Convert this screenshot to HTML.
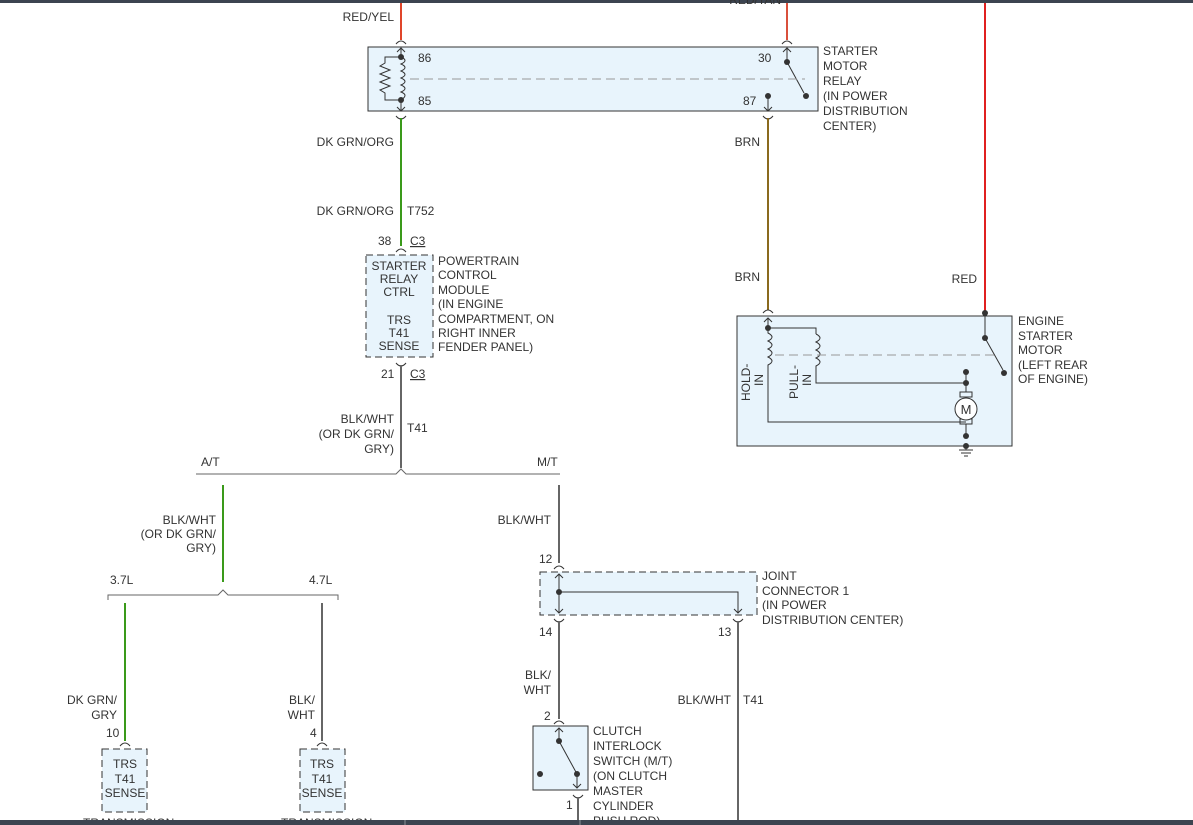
<!DOCTYPE html>
<html><head><meta charset="utf-8"><style>
html,body{margin:0;padding:0;background:#fff;}
svg{display:block;font-family:"Liberation Sans",sans-serif;font-size:12px;fill:#333;}
</style></head><body>
<svg width="1193" height="825" viewBox="0 0 1193 825" xmlns="http://www.w3.org/2000/svg">
<rect x="0" y="0" width="1193" height="3" fill="#3c4450"/>
<g fill="#333">
<!-- Relay -->
<rect x="368" y="47" width="450" height="64" fill="#e8f4fc" stroke="#333" stroke-width="1"/>
<line x1="401" y1="3" x2="401" y2="40" stroke="#e0452a" stroke-width="2"/>
<line x1="787" y1="3" x2="787" y2="40" stroke="#d9503c" stroke-width="2"/>
<text x="394" y="21" text-anchor="end">RED/YEL</text>
<text x="781" y="4" text-anchor="end">RED/TAN</text>
<path d="M396 44 q5 -6 10 0 M782 44 q5 -6 10 0 M396 116 q5 6 10 0 M763 116 q5 6 10 0" stroke="#333" fill="none"/>
<path d="M397 52 l4 -4 l4 4 M401 48 v9 M397 107 l4 4 l4 -4 M401 111 v-9 M783 52 l4 -4 l4 4 M787 48 v14 M764 107 l4 4 l4 -4 M768 111 v-15" stroke="#333" fill="none"/>
<circle cx="401" cy="57" r="3"/><circle cx="401" cy="100" r="3"/><circle cx="787" cy="62" r="3"/><circle cx="768" cy="96" r="3"/><circle cx="806" cy="96" r="3"/>
<path d="M401 57 q8 3.5 0 7 q8 3.5 0 7 q8 3.5 0 7 q8 3.5 0 7 q8 3.5 0 7 q8 3 0 8" stroke="#333" fill="none"/>
<path d="M401 57 h-16 v6 l-5 3 l10 4 l-10 4 l10 4 l-10 4 l10 4 l-10 4 l5 3 v7 h16" stroke="#333" fill="none"/>
<line x1="787" y1="62" x2="804" y2="93" stroke="#333"/>
<line x1="410" y1="79" x2="805" y2="79" stroke="#999" stroke-dasharray="9,5"/>
<text x="418" y="62">86</text><text x="418" y="105">85</text><text x="758" y="62">30</text><text x="743" y="105">87</text>
<text x="823" y="55">STARTER</text><text x="823" y="70">MOTOR</text><text x="823" y="85">RELAY</text><text x="823" y="100">(IN POWER</text><text x="823" y="115">DISTRIBUTION</text><text x="823" y="130">CENTER)</text>
<!-- DK GRN/ORG -->
<line x1="401" y1="118" x2="401" y2="246" stroke="#3a9a1a" stroke-width="2"/>
<text x="394" y="146" text-anchor="end">DK GRN/ORG</text>
<text x="394" y="215" text-anchor="end">DK GRN/ORG</text><text x="407" y="215">T752</text>
<text x="378" y="245">38</text><text x="410" y="245" text-decoration="underline">C3</text>
<path d="M396 252 q5 -6 10 0" stroke="#333" fill="none"/>
<!-- PCM -->
<rect x="366" y="255" width="67" height="102" fill="#e8f4fc" stroke="#333" stroke-dasharray="7,4"/>
<g text-anchor="middle"><text x="399" y="270">STARTER</text><text x="399" y="283">RELAY</text><text x="399" y="296">CTRL</text><text x="399" y="324">TRS</text><text x="399" y="337">T41</text><text x="399" y="350">SENSE</text></g>
<text x="438" y="265">POWERTRAIN</text><text x="438" y="279">CONTROL</text><text x="438" y="294">MODULE</text><text x="438" y="308">(IN ENGINE</text><text x="438" y="323">COMPARTMENT, ON</text><text x="438" y="337">RIGHT INNER</text><text x="438" y="351">FENDER PANEL)</text>
<path d="M396 363 q5 6 10 0" stroke="#333" fill="none"/>
<line x1="401" y1="365" x2="401" y2="468" stroke="#666" stroke-width="2"/>
<text x="381" y="378">21</text><text x="410" y="378" text-decoration="underline">C3</text>
<text x="394" y="423" text-anchor="end">BLK/WHT</text><text x="394" y="438" text-anchor="end">(OR DK GRN/</text><text x="394" y="453" text-anchor="end">GRY)</text><text x="407" y="432">T41</text>
<path d="M196 474 H396 l5 -5 l5 5 H560" stroke="#666" fill="none"/>
<text x="201" y="466">A/T</text><text x="537" y="466">M/T</text>
<!-- A/T branch -->
<line x1="223" y1="485" x2="223" y2="582" stroke="#3a9a1a" stroke-width="2"/>
<text x="216" y="524" text-anchor="end">BLK/WHT</text><text x="216" y="538" text-anchor="end">(OR DK GRN/</text><text x="216" y="552" text-anchor="end">GRY)</text>
<path d="M108 600 v-5 H218 l5 -5 l5 5 H338 v5" stroke="#666" fill="none"/>
<text x="110" y="584">3.7L</text><text x="309" y="584">4.7L</text>
<line x1="125" y1="603" x2="125" y2="741" stroke="#3a9a1a" stroke-width="2"/>
<line x1="322" y1="603" x2="322" y2="741" stroke="#666" stroke-width="2"/>
<text x="117" y="704" text-anchor="end">DK GRN/</text><text x="117" y="719" text-anchor="end">GRY</text>
<text x="315" y="704" text-anchor="end">BLK/</text><text x="315" y="719" text-anchor="end">WHT</text>
<text x="106" y="737">10</text><text x="310" y="737">4</text>
<path d="M120 746 q5 -6 10 0 M317 746 q5 -6 10 0" stroke="#333" fill="none"/>
<rect x="102" y="749" width="45" height="63" fill="#e8f4fc" stroke="#333" stroke-dasharray="7,4"/>
<rect x="300" y="749" width="45" height="63" fill="#e8f4fc" stroke="#333" stroke-dasharray="7,4"/>
<g text-anchor="middle"><text x="125" y="768">TRS</text><text x="125" y="783">T41</text><text x="125" y="797">SENSE</text><text x="322" y="768">TRS</text><text x="322" y="783">T41</text><text x="322" y="797">SENSE</text></g>
<text x="83" y="827">TRANSMISSION</text><text x="281" y="827">TRANSMISSION</text>
<!-- M/T branch -->
<line x1="559" y1="485" x2="559" y2="563" stroke="#666" stroke-width="2"/>
<text x="551" y="524" text-anchor="end">BLK/WHT</text>
<text x="539" y="563">12</text>
<path d="M554 569 q5 -6 10 0" stroke="#333" fill="none"/>
<rect x="540" y="572" width="217" height="43" fill="#e8f4fc" stroke="#333" stroke-dasharray="7,4"/>
<path d="M559 574 v39 M555 578 l4 -4 l4 4 M555 609 l4 4 l4 -4 M559 592 H738 V613 M734 609 l4 4 l4 -4" stroke="#333" fill="none"/>
<circle cx="559" cy="592" r="3"/>
<text x="762" y="580">JOINT</text><text x="762" y="595">CONNECTOR 1</text><text x="762" y="609">(IN POWER</text><text x="762" y="624">DISTRIBUTION CENTER)</text>
<path d="M554 619 q5 6 10 0 M733 619 q5 6 10 0" stroke="#333" fill="none"/>
<text x="539" y="636">14</text><text x="718" y="636">13</text>
<line x1="559" y1="621" x2="559" y2="719" stroke="#666" stroke-width="2"/>
<line x1="738" y1="621" x2="738" y2="820" stroke="#666" stroke-width="2"/>
<text x="551" y="679" text-anchor="end">BLK/</text><text x="551" y="694" text-anchor="end">WHT</text>
<text x="731" y="704" text-anchor="end">BLK/WHT</text><text x="743" y="704">T41</text>
<text x="544" y="720">2</text>
<path d="M554 724 q5 -6 10 0" stroke="#333" fill="none"/>
<rect x="533" y="726" width="55" height="64" fill="#e8f4fc" stroke="#333"/>
<path d="M559 728 v13 M555 732 l4 -4 l4 4 M559 741 L577 774 M577 774 v14 M573 784 l4 4 l4 -4" stroke="#333" fill="none"/>
<circle cx="559" cy="741" r="3"/><circle cx="577" cy="774" r="3"/><circle cx="540" cy="774" r="3"/>
<path d="M573 795 q5 -6 10 0" stroke="#333" fill="none" transform="rotate(180 578 795)"/>
<line x1="578" y1="797" x2="578" y2="820" stroke="#666" stroke-width="2"/>
<text x="566" y="809">1</text>
<text x="593" y="735">CLUTCH</text><text x="593" y="750">INTERLOCK</text><text x="593" y="765">SWITCH (M/T)</text><text x="593" y="780">(ON CLUTCH</text><text x="593" y="795">MASTER</text><text x="593" y="810">CYLINDER</text><text x="593" y="825">PUSH ROD)</text>
<!-- BRN -->
<line x1="768" y1="118" x2="768" y2="310" stroke="#8a6a1e" stroke-width="2"/>
<text x="760" y="146" text-anchor="end">BRN</text><text x="760" y="281" text-anchor="end">BRN</text>
<path d="M763 313 q5 -6 10 0" stroke="#333" fill="none"/>
<!-- RED -->
<line x1="985" y1="3" x2="985" y2="313" stroke="#e02020" stroke-width="2"/>
<text x="977" y="283" text-anchor="end">RED</text>
<!-- Starter -->
<rect x="737" y="316" width="275" height="130" fill="#e8f4fc" stroke="#333"/>
<circle cx="985" cy="313" r="3"/>
<path d="M764 322 l4 -4 l4 4 M768 318 v10 M768 328 h48 v6 M768 328 v5 q8 4 0 8 q8 4 0 8 q8 4 0 8 q8 4 0 8 v57 H966" stroke="#333" fill="none"/>
<path d="M816 334 q8 4 0 8 q8 4 0 8 q8 4 0 8 q8 4 0 8 v17 H966 M966 372 v20 M960 392 h12 v5 h-12 z M960 424 h12 v-5 h-12 z M966 424 v12" stroke="#333" fill="none"/>
<circle cx="966" cy="409" r="11" fill="#fff" stroke="#333"/>
<text x="966" y="414" text-anchor="middle" font-size="13">M</text>
<circle cx="768" cy="328" r="3"/><circle cx="966" cy="372" r="3"/><circle cx="966" cy="383" r="3"/><circle cx="966" cy="436" r="3"/><circle cx="966" cy="446" r="3"/>
<path d="M985 313 v25 L1003 370" stroke="#333" fill="none"/>
<circle cx="985" cy="338" r="3"/><circle cx="1004" cy="373" r="3"/>
<line x1="775" y1="355" x2="995" y2="355" stroke="#999" stroke-dasharray="9,5"/>
<path d="M966 446 v4 M959 450 h14 M961 453 h10 M964 456 h4" stroke="#333" fill="none"/>
<text transform="translate(750 401) rotate(-90)" x="0" y="0">HOLD-</text><text transform="translate(763 386) rotate(-90)">IN</text>
<text transform="translate(798 399) rotate(-90)">PULL-</text><text transform="translate(811 386) rotate(-90)">IN</text>
<text x="1018" y="325">ENGINE</text><text x="1018" y="340">STARTER</text><text x="1018" y="354">MOTOR</text><text x="1018" y="369">(LEFT REAR</text><text x="1018" y="383">OF ENGINE)</text>
</g>
<rect x="0" y="820" width="1193" height="5" fill="#3c4450"/>
<line x1="405" y1="820" x2="405" y2="825" stroke="#8a8f96"/><line x1="580" y1="820" x2="580" y2="825" stroke="#8a8f96"/>
</svg>
</body></html>
